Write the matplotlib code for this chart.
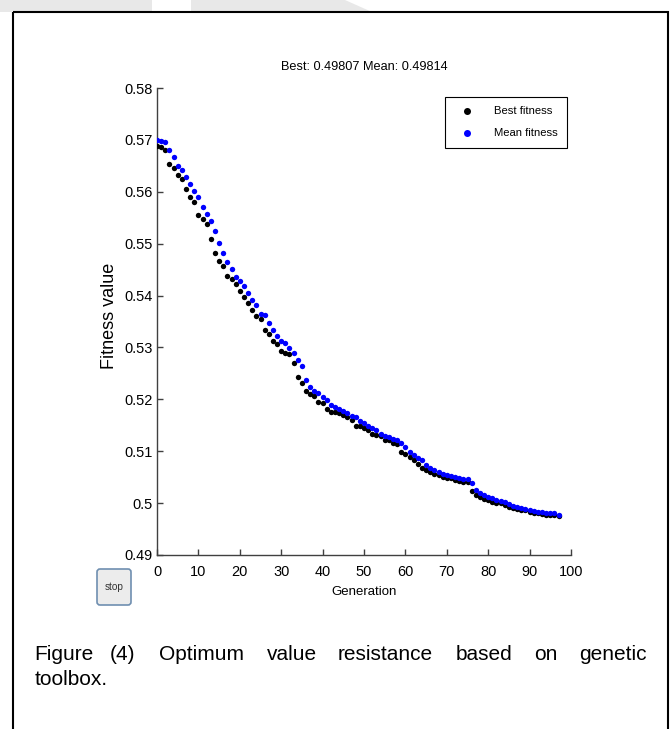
import matplotlib
matplotlib.use("Agg")
import matplotlib.pyplot as plt
import matplotlib.patches as mpatches
import matplotlib.transforms as mtransforms
from matplotlib import font_manager

# fitness values per generation
generations = list(range(0, 98))
best_fitness = [
    0.5688, 0.5687, 0.5681, 0.5653, 0.5646, 0.5633, 0.5624, 0.5606, 0.5589, 0.5581,
    0.5556, 0.5548, 0.5538, 0.5509, 0.5482, 0.5467, 0.5456, 0.5437, 0.5432, 0.5423,
    0.5408, 0.5397, 0.5386, 0.5372, 0.5360, 0.5354, 0.5334, 0.5326, 0.5313, 0.5307,
    0.5293, 0.5289, 0.5287, 0.5270, 0.5243, 0.5232, 0.5217, 0.5211, 0.5206, 0.5195,
    0.5193, 0.5182, 0.5176, 0.5176, 0.5174, 0.5169, 0.5165, 0.5160, 0.5149, 0.5149,
    0.5144, 0.5140, 0.5134, 0.5131, 0.5130, 0.5122, 0.5121, 0.5116, 0.5113, 0.5099,
    0.5094, 0.5089, 0.5083, 0.5075, 0.5067, 0.5063, 0.5060, 0.5057, 0.5054, 0.5051,
    0.5049, 0.5048, 0.5044, 0.5042, 0.5041, 0.5040, 0.5024, 0.5015, 0.5012, 0.5008,
    0.5006, 0.5003, 0.5001, 0.5000, 0.4997, 0.4993, 0.4990, 0.4988, 0.4987, 0.4986,
    0.4982, 0.4981, 0.4980, 0.4979, 0.4978, 0.4977, 0.4977, 0.4976,
]
mean_fitness = [
    0.5699, 0.5697, 0.5695, 0.5681, 0.5667, 0.5649, 0.5642, 0.5629, 0.5615, 0.5602,
    0.5589, 0.5570, 0.5557, 0.5544, 0.5525, 0.5501, 0.5482, 0.5464, 0.5451, 0.5435,
    0.5429, 0.5419, 0.5404, 0.5392, 0.5381, 0.5365, 0.5362, 0.5347, 0.5334, 0.5323,
    0.5313, 0.5308, 0.5298, 0.5289, 0.5275, 0.5264, 0.5237, 0.5223, 0.5216, 0.5213,
    0.5204, 0.5198, 0.5189, 0.5185, 0.5182, 0.5178, 0.5173, 0.5167, 0.5165, 0.5158,
    0.5154, 0.5148, 0.5144, 0.5141, 0.5134, 0.5130, 0.5127, 0.5124, 0.5121, 0.5116,
    0.5109, 0.5099, 0.5093, 0.5086, 0.5083, 0.5073, 0.5067, 0.5063, 0.5060, 0.5057,
    0.5055, 0.5052, 0.5051, 0.5049, 0.5046, 0.5046, 0.5039, 0.5025, 0.5019, 0.5016,
    0.5012, 0.5010, 0.5006, 0.5004, 0.5002, 0.4999, 0.4994, 0.4992, 0.4991, 0.4989,
    0.4987, 0.4984, 0.4983, 0.4982, 0.4981, 0.4981, 0.4980, 0.4978,
]
x_ticks = [0, 10, 20, 30, 40, 50, 60, 70, 80, 90, 100]
y_ticks = [0.49, 0.50, 0.51, 0.52, 0.53, 0.54, 0.55, 0.56, 0.57, 0.58]
y_tick_labels = ["0.49", "0.5", "0.51", "0.52", "0.53", "0.54", "0.55", "0.56", "0.57", "0.58"]
title_text = "Best: 0.49807 Mean: 0.49814"
caption_line1 = ["Figure", "(4)", "Optimum", "value", "resistance", "based", "on", "genetic"]
caption_line2 = "toolbox."

W, H = 670, 729

installed = {f.name for f in font_manager.fontManager.ttflist}
if "Liberation Sans Narrow" in installed:
    narrow = "Liberation Sans Narrow"
    k = 1.0
else:
    narrow = "Liberation Sans"
    k = 0.85

fig = plt.figure(figsize=(W / 100, H / 100), dpi=100)
fig.patch.set_facecolor("white")

# pixel coords (origin top-left) -> figure
px = mtransforms.Affine2D().scale(1 / W, -1 / H).translate(0, 1) + fig.transFigure

# faint watermark pieces above the frame
fig.add_artist(mpatches.Polygon([(0, 0), (152, 0), (152, 12), (0, 12)], closed=True,
                                facecolor="#e8e8e8", edgecolor="none", transform=px, zorder=0))
fig.add_artist(mpatches.Polygon([(191, 0), (345, 0), (372, 12), (191, 12)], closed=True,
                                facecolor="#e8e8e8", edgecolor="none", transform=px, zorder=0))

# outer frame of the figure box
fig.add_artist(mpatches.Rectangle((13, 12), 655, 800, fill=False, edgecolor="black",
                                  linewidth=1.5, transform=px, zorder=1))

ax = fig.add_axes([157 / W, 1 - 555 / H, 414 / W, 467 / H])
ax.scatter(generations, best_fitness, s=15, color="black", linewidths=0, label="Best fitness", zorder=3)
ax.scatter(generations, mean_fitness, s=15, color="#0000ff", linewidths=0, label="Mean fitness", zorder=4)

ax.set_xlim(0, 100)
ax.set_ylim(0.49, 0.58)
ax.set_xticks(x_ticks)
ax.set_yticks(y_ticks)
ax.set_yticklabels(y_tick_labels)
for sp in ["top", "right"]:
    ax.spines[sp].set_visible(False)
for sp in ["left", "bottom"]:
    ax.spines[sp].set_color("#404040")
    ax.spines[sp].set_linewidth(1.0)
ax.tick_params(axis="both", direction="in", length=4, width=1, color="#404040")
ax.tick_params(axis="x", pad=7.5)
ax.tick_params(axis="y", pad=3)
for lab in ax.get_xticklabels() + ax.get_yticklabels():
    lab.set_fontfamily(narrow)
    lab.set_fontsize(12.3 * k)

ax.set_title(title_text, fontfamily=narrow, fontsize=10.8 * k, pad=13)
ax.set_xlabel("Generation", fontfamily=narrow, fontsize=11.2 * k)
ax.xaxis.set_label_coords(0.5, -0.066)
ax.set_ylabel("Fitness value", fontfamily="Liberation Sans", fontsize=13)
ax.yaxis.set_label_coords(-0.094, 0.512)

leg = ax.legend(loc="upper right", bbox_to_anchor=(0.990, 0.981), borderaxespad=0,
                fancybox=False, edgecolor="black", framealpha=1, markerscale=1.3,
                prop={"family": narrow, "size": 9.5 * k}, handlelength=2.2,
                handletextpad=1.3, labelspacing=1.05, borderpad=0.85)
leg.get_frame().set_linewidth(0.8)

# "stop" button of the GA toolbox window
fig.add_artist(mpatches.FancyBboxPatch((97, 569), 34, 36, boxstyle="round,pad=0,rounding_size=3",
                                       facecolor="#ececec", edgecolor="#6f8fb0", linewidth=1.2,
                                       transform=px, zorder=2))
fig.text(114, 587, "stop", transform=px, ha="center", va="center",
         fontfamily=narrow, fontsize=8.5 * k, color="#333333")

# justified caption below the figure
word_x = [34.3, 110, 159.3, 266.7, 337.3, 456, 534, 579]
for wx, word in zip(word_x, caption_line1):
    fig.text(wx, 660, word, transform=px, ha="left", va="baseline",
             fontfamily="Liberation Sans", fontsize=15)
fig.text(34.3, 685, caption_line2, transform=px, ha="left", va="baseline",
         fontfamily="Liberation Sans", fontsize=15)

fig.savefig("out.png", dpi=100)
